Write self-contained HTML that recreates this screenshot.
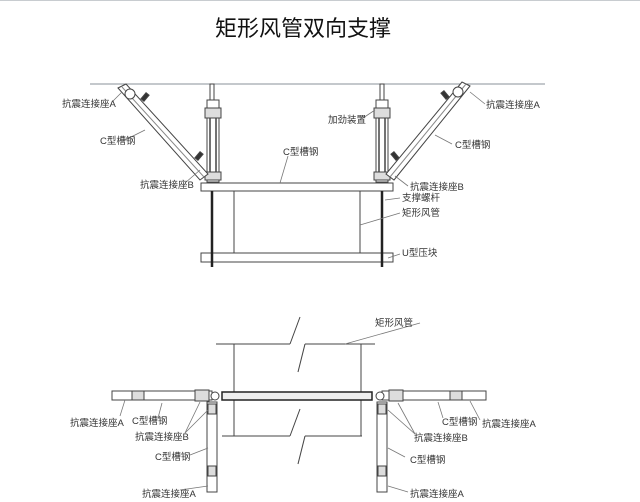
<!DOCTYPE html>
<html><head><meta charset="utf-8"><style>
html,body{margin:0;padding:0;background:#fff;}
svg{display:block;}
text{font-family:"Liberation Sans","Noto Sans CJK SC",sans-serif;fill:#333;}
</style></head><body>
<svg width="640" height="502" viewBox="0 0 640 502" xmlns="http://www.w3.org/2000/svg">
<line x1="0" y1="0.5" x2="640" y2="0.5" stroke="#c8ccd0" stroke-width="1"/>
<text x="303" y="36" font-size="22" text-anchor="middle" style="fill:#111">矩形风管双向支撑</text>

<!-- ceiling -->
<line x1="90" y1="84" x2="545" y2="84" stroke="#8a9098" stroke-width="1"/>

<g stroke="#444" fill="none" stroke-width="1">
<!-- upper: hanger rods -->
<rect x="210" y="84" width="4" height="16" fill="#fff"/>
<rect x="380" y="84" width="4" height="16" fill="#fff"/>
<!-- left device -->
<rect x="207" y="100" width="12" height="82" fill="#fff"/>
<rect x="205" y="108" width="16" height="10" fill="#ddd"/>
<line x1="210" y1="118" x2="210" y2="175" stroke-width="1.5"/>
<line x1="216" y1="118" x2="216" y2="175" stroke-width="1.5"/>
<rect x="205" y="172" width="16" height="8" fill="#ddd"/>
<!-- right device -->
<rect x="376" y="100" width="12" height="82" fill="#fff"/>
<rect x="374" y="108" width="16" height="10" fill="#ddd"/>
<line x1="379" y1="118" x2="379" y2="175" stroke-width="1.5"/>
<line x1="385" y1="118" x2="385" y2="175" stroke-width="1.5"/>
<rect x="374" y="172" width="16" height="8" fill="#ddd"/>
<!-- diagonal braces -->
<polygon points="118,88 126,84 208,174 200,180" fill="#fff"/>
<line x1="122" y1="87" x2="204" y2="177" stroke="#888"/>
<circle cx="130" cy="94" r="5" fill="#fff"/>
<polygon points="470,86 462,82 386,174 394,180" fill="#fff"/>
<line x1="466" y1="84" x2="390" y2="177" stroke="#888"/>
<circle cx="458" cy="92" r="5" fill="#fff"/>
<rect x="143" y="93" width="4" height="8" fill="#333" transform="rotate(40 145 97)"/>
<rect x="443" y="91" width="4" height="8" fill="#333" transform="rotate(-40 445 95)"/>
<rect x="197" y="152" width="4" height="8" fill="#333" transform="rotate(40 199 156)"/>
<rect x="393" y="152" width="4" height="8" fill="#333" transform="rotate(-40 395 156)"/>
<!-- frame -->
<rect x="201" y="183" width="192" height="8" fill="#fff"/>
<rect x="201" y="253" width="192" height="9" fill="#fff"/>
<rect x="234" y="191" width="126" height="62" fill="#fff"/>
<line x1="212" y1="191" x2="212" y2="267" stroke="#222" stroke-width="2.5"/>
<line x1="382" y1="191" x2="382" y2="267" stroke="#222" stroke-width="2.5"/>

<!-- leaders upper -->
<g stroke="#777" stroke-width="0.8">
<line x1="112" y1="102" x2="122" y2="92"/>
<line x1="125" y1="140" x2="145" y2="130"/>
<line x1="185" y1="183" x2="200" y2="170"/>
<line x1="360" y1="120" x2="375" y2="110"/>
<line x1="288" y1="156" x2="280" y2="183"/>
<line x1="408" y1="186" x2="395" y2="176"/>
<line x1="400" y1="198" x2="385" y2="200"/>
<line x1="400" y1="213" x2="360" y2="225"/>
<line x1="400" y1="254" x2="388" y2="258"/>
<line x1="485" y1="104" x2="470" y2="92"/>
<line x1="452" y1="144" x2="435" y2="135"/>
</g>

<!-- lower duct -->
<line x1="216" y1="344" x2="290" y2="344"/>
<line x1="305" y1="344" x2="375" y2="344"/>
<line x1="222" y1="436" x2="290" y2="436"/>
<line x1="305" y1="436" x2="362" y2="436"/>
<line x1="234" y1="344" x2="234" y2="436"/>
<line x1="361" y1="344" x2="361" y2="436"/>
<polyline points="300,317 290,344"/>
<polyline points="298,372 305,344"/>
<polyline points="300,409 290,436"/>
<polyline points="298,464 305,436"/>
<!-- horizontal member -->
<rect x="112" y="391" width="100" height="9" fill="#fff"/>
<rect x="382" y="391" width="104" height="9" fill="#fff"/>
<rect x="222" y="392" width="150" height="8" fill="#eee" stroke="#222" stroke-width="1.5"/>
<rect x="132" y="391" width="12" height="9" fill="#ddd"/>
<rect x="450" y="391" width="12" height="9" fill="#ddd"/>
<rect x="195" y="390" width="14" height="11" fill="#ddd"/>
<rect x="389" y="390" width="14" height="11" fill="#ddd"/>
<circle cx="215" cy="396" r="4" fill="#fff"/>
<circle cx="380" cy="396" r="4" fill="#fff"/>
<!-- vertical members -->
<rect x="207" y="402" width="10" height="90" fill="#fff"/>
<rect x="377" y="402" width="10" height="90" fill="#fff"/>
<rect x="208" y="404" width="8" height="10" fill="#ddd"/>
<rect x="378" y="404" width="8" height="10" fill="#ddd"/>
<rect x="208" y="466" width="8" height="10" fill="#ddd"/>
<rect x="378" y="466" width="8" height="10" fill="#ddd"/>
<g stroke="#777" stroke-width="0.8">
<line x1="420" y1="323" x2="345" y2="344"/>
<line x1="120" y1="416" x2="125" y2="400"/>
<line x1="158" y1="418" x2="162" y2="403"/>
<line x1="185" y1="433" x2="200" y2="402"/>
<line x1="185" y1="433" x2="208" y2="410"/>
<line x1="190" y1="455" x2="208" y2="448"/>
<line x1="180" y1="490" x2="208" y2="486"/>
<line x1="443" y1="418" x2="438" y2="402"/>
<line x1="480" y1="420" x2="470" y2="401"/>
<line x1="415" y1="434" x2="398" y2="403"/>
<line x1="415" y1="434" x2="388" y2="410"/>
<line x1="405" y1="457" x2="388" y2="448"/>
<line x1="408" y1="492" x2="388" y2="486"/>
</g>
</g>

<g font-size="9.5">
<text x="62" y="107">抗震连接座A</text>
<text x="100" y="144">C型槽钢</text>
<text x="140" y="188">抗震连接座B</text>
<text x="328" y="123">加劲装置</text>
<text x="283" y="155">C型槽钢</text>
<text x="410" y="190">抗震连接座B</text>
<text x="402" y="201">支撑螺杆</text>
<text x="402" y="216">矩形风管</text>
<text x="402" y="256">U型压块</text>
<text x="486" y="108">抗震连接座A</text>
<text x="455" y="148">C型槽钢</text>

<text x="375" y="326">矩形风管</text>
<text x="70" y="426">抗震连接座A</text>
<text x="132" y="424">C型槽钢</text>
<text x="135" y="440">抗震连接座B</text>
<text x="155" y="460">C型槽钢</text>
<text x="142" y="497">抗震连接座A</text>
<text x="442" y="425">C型槽钢</text>
<text x="482" y="427">抗震连接座A</text>
<text x="414" y="441">抗震连接座B</text>
<text x="410" y="463">C型槽钢</text>
<text x="410" y="497">抗震连接座A</text>
</g>
</svg>
</body></html>
